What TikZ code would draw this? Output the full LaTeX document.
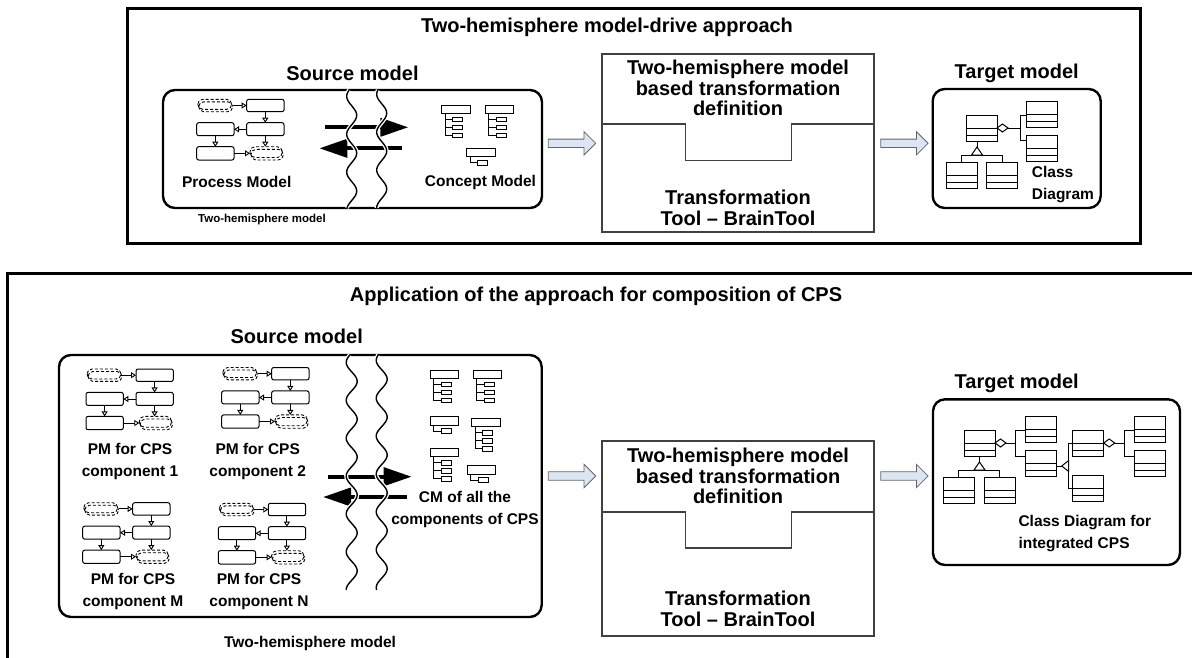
\documentclass[tikz,border=0pt]{standalone}
\usepackage{fontspec}
\setmainfont{Liberation Sans}
\usetikzlibrary{arrows.meta,calc}
\definecolor{barfill}{HTML}{DCE6F2}
\tikzset{
  hdr/.style={font=\fontsize{20}{22}\selectfont\bfseries, inner sep=0pt},
  lbl/.style={font=\fontsize{15.5}{22}\selectfont\bfseries, inner sep=0pt, align=center},
  smalllbl/.style={font=\fontsize{11.5}{13}\selectfont\bfseries, inner sep=0pt},
  midtxt/.style={font=\fontsize{20}{20.6}\selectfont\bfseries, inner sep=0pt, align=center},
  outerbox/.style={draw, line width=3pt},
  roundbox/.style={draw, line width=2.4pt, rounded corners=12pt},
  midbox/.style={draw=black!75, line width=1.1pt},
  pmbox/.style={draw, line width=1pt, rounded corners=2pt},
  pmdash/.style={draw, line width=0.9pt, dash pattern=on 3pt off 2pt, rounded corners=5pt},
  pmarr/.style={line width=0.9pt, -{Triangle[open, length=5pt, width=6pt]}},
  thickarr/.style={line width=4pt, -{Triangle[length=28pt, width=18pt]}},
  blockarr/.style={draw=black!60, fill=barfill, line width=0.8pt},
  cls/.style={draw, line width=1pt},
  halo/.style={draw=white, line width=4pt},
  wave/.style={draw=black, line width=1.4pt},
  pmicon/.pic={
    \draw[pmdash] (1,0) rectangle (35,10);
    \draw[pmdash] (2,2.5) rectangle (36,12.4);
    \draw[pmbox] (50,0) rectangle (87.3,12.4);
    \draw[pmbox] (50,23.4) rectangle (87.3,36.4);
    \draw[pmbox] (0,23.4) rectangle (37.3,36.4);
    \draw[pmbox] (0,47.4) rectangle (37.3,60.7);
    \draw[pmdash] (53.3,47.4) rectangle (85.6,58.2);
    \draw[pmdash] (54.3,50) rectangle (86.6,60.7);
    \draw[pmarr] (36,6.2) -- (50,6.2);
    \draw[pmarr] (68.6,12.4) -- (68.6,23.4);
    \draw[pmarr] (50,30) -- (37.3,30);
    \draw[pmarr] (18.6,36.4) -- (18.6,47.4);
    \draw[pmarr] (37.3,54) -- (53.3,54);
    \draw[pmarr] (68.6,36.4) -- (68.6,47.4);
  },
  cmthree/.pic={
    \draw[line width=0.9pt] (0,0) rectangle (28.3,8.3);
    \draw[line width=0.9pt] (3.3,8.3) -- (3.3,30.5);
    \foreach \yy in {14.5,22.5,30.5}{
      \draw[line width=0.9pt] (3.3,\yy) -- (11,\yy);
      \draw[line width=0.9pt] (11,\yy-2.3) rectangle (21,\yy+2.3);
    }
  },
  cmone/.pic={
    \draw[line width=0.9pt] (0,0) rectangle (28.3,8.3);
    \draw[line width=0.9pt] (3.3,8.3) -- (3.3,14.5) -- (11,14.5);
    \draw[line width=0.9pt] (11,12) rectangle (21,17);
  },
  clsbox/.pic={
    \draw[cls] (0,0) rectangle (31,26);
    \draw[cls] (0,13) -- (31,13);
    \draw[cls] (0,20) -- (31,20);
  },
}
\newcommand{\diam}[2]{\draw[cls, fill=white] (#1,#2) -- (#1+5.5,#2-4) -- (#1+11,#2) -- (#1+5.5,#2+4) -- cycle;}
\newcommand{\triup}[2]{\draw[cls, fill=white] (#1,#2) -- (#1-5.5,#2+8) -- (#1+5.5,#2+8) -- cycle;}
\newcommand{\trileft}[2]{\draw[cls, fill=white] (#1,#2) -- (#1+7,#2-5.5) -- (#1+7,#2+5.5) -- cycle;}
\newcommand{\blockarrow}[2]{\draw[blockarr] (#1,#2-4.2) -- (#1+35.7,#2-4.2) -- (#1+35.7,#2-11.7) -- (#1+47.4,#2) -- (#1+35.7,#2+11.7) -- (#1+35.7,#2+4.2) -- (#1,#2+4.2) -- cycle;}
\begin{document}
\begin{tikzpicture}[x=1pt,y=-1pt]
\useasboundingbox (0,0) rectangle (1192,657);
\fill[white] (0,0) rectangle (1192,657);

% ================= TOP PANEL =================
\draw[outerbox] (127,8) rectangle (1140,243);
\node[hdr] (t1) at (607,27) {Two-hemisphere model-drive approach};

% source
\node[hdr] (sm1) at (352.5,73) {Source model};
\draw[roundbox] (163,90) rectangle (542,208);
\pic at (196.7,99.3) {pmicon};
\node[lbl] (pml) at (236.7,182) {Process Model};
\pic at (441.7,105) {cmthree};
\pic at (485,105) {cmthree};
\pic at (466.7,148.3) {cmone};
\node[lbl] (cml) at (480.5,182) {Concept Model};
\node[smalllbl] (thm1) at (262,220) {Two-hemisphere model};

\coordinate (ra1) at (325,127.3);
\coordinate (ra2) at (408.3,127.3);
\coordinate (la1) at (401.7,148.3);
\coordinate (la2) at (319.3,148.3);
\draw[thickarr] (ra1) -- (ra2);
\draw[thickarr] (la1) -- (la2);
\foreach \cx/\ph in {351.7/210, 381.7/230}{
  \draw[halo] plot[smooth, domain=0:118, samples=70] ({\cx+5*sin(\x*9.5+\ph)}, {90+\x});
  \draw[wave] plot[smooth, domain=0:118, samples=70] ({\cx+5*sin(\x*9.5+\ph)}, {90+\x});
}

% block arrows
\blockarrow{548.3}{143.3}
\blockarrow{880.7}{143.3}

% middle box
\draw[midbox] (602,54) rectangle (874,232);
\draw[midbox] (602,124) -- (685.7,124) -- (685.7,160.7) -- (791.7,160.7) -- (791.7,124) -- (874,124);
\node[midtxt] (md1a) at (738,88) {Two-hemisphere model\\based transformation\\definition};
\node[midtxt] (md1b) at (738,208) {Transformation\\Tool – BrainTool};

% target
\node[hdr] (tm1) at (1016.7,73) {Target model};
\draw[roundbox] (932.7,89) rectangle (1100.7,208);
\pic at (966,115) {clsbox};
\pic at (1026.7,101.7) {clsbox};
\pic at (1026.7,135) {clsbox};
\pic at (946,162.7) {clsbox};
\pic at (986.7,162.7) {clsbox};
\draw[cls] (1008,128) -- (1020,128);
\draw[cls] (1026.7,115.7) -- (1020,115.7) -- (1020,140) -- (1026.7,140);
\diam{997}{128}
\draw[cls] (977,141) -- (977,147);
\draw[cls] (961.5,162.7) -- (961.5,155) -- (1002.2,155) -- (1002.2,162.7);
\triup{977}{147}
\node[lbl, align=left, anchor=west] (cd1) at (1031.7,185) {Class\\Diagram};

% ================= BOTTOM PANEL =================
\draw[outerbox] (7,273) rectangle (1200,670);
\node[hdr] (t2) at (596,296) {Application of the approach for composition of CPS};

\node[hdr] (sm2) at (296.7,336.7) {Source model};
\draw[roundbox] (59,355) rectangle (541.7,617);
\pic at (86,369) {pmicon};
\pic at (221.7,367.5) {pmicon};
\pic at (82.7,502.7) {pmicon};
\pic at (218.3,503.3) {pmicon};
\node[lbl] (pm1) at (130,461.7) {PM for CPS\\component 1};
\node[lbl] (pm2) at (257.7,461.7) {PM for CPS\\component 2};
\node[lbl] (pmm) at (133,591.7) {PM for CPS\\component M};
\node[lbl] (pmn) at (259,591.7) {PM for CPS\\component N};
\node[lbl] (thm2) at (310,643) {Two-hemisphere model};

\pic at (430,370) {cmthree};
\pic at (473,370) {cmthree};
\pic at (430,416.7) {cmone};
\pic at (471.7,418.3) {cmthree};
\pic at (430,448.3) {cmthree};
\pic at (467.3,465.7) {cmone};

\coordinate (rb1) at (328,476.7);
\coordinate (rb2) at (411.7,476.7);
\coordinate (lb1) at (407,497);
\coordinate (lb2) at (323,497);
\draw[thickarr] (rb1) -- (rb2);
\draw[thickarr] (lb1) -- (lb2);
\foreach \cx/\ph in {351.7/200, 381.7/220}{
  \draw[halo] plot[smooth, domain=0:235, samples=120] ({\cx+5.5*sin(\x*9.5+\ph)}, {355+\x});
  \draw[wave] plot[smooth, domain=0:235, samples=120] ({\cx+5.5*sin(\x*9.5+\ph)}, {355+\x});
}
\node[lbl] (cmt) at (465,509) {CM of all the\\components of CPS};

\blockarrow{548.3}{476}
\blockarrow{880.7}{476}

\draw[midbox] (602,441) rectangle (874,636);
\draw[midbox] (602,512) -- (685.7,512) -- (685.7,548) -- (791.7,548) -- (791.7,512) -- (874,512);
\node[midtxt] (md2a) at (738,476) {Two-hemisphere model\\based transformation\\definition};
\node[midtxt] (md2b) at (738,609) {Transformation\\Tool – BrainTool};

\node[hdr] (tm2) at (1016.7,383.3) {Target model};
\draw[roundbox] (933,399.3) rectangle (1180,565);
\pic at (964,430) {clsbox};
\pic at (1025,416.7) {clsbox};
\pic at (1025,450.7) {clsbox};
\pic at (1072.7,430) {clsbox};
\pic at (1072.7,475.7) {clsbox};
\pic at (1134.3,416.7) {clsbox};
\pic at (1134.3,450.7) {clsbox};
\pic at (943.3,477.3) {clsbox};
\pic at (984.3,477.3) {clsbox};
\draw[cls] (1006,443) -- (1015,443);
\draw[cls] (1025,430) -- (1015,430) -- (1015,456.7) -- (1025,456.7);
\diam{995}{443}
\draw[cls] (979.5,456) -- (979.5,462);
\draw[cls] (958.8,477.3) -- (958.8,470) -- (999.8,470) -- (999.8,477.3);
\triup{979.5}{462}
\draw[cls] (1056,466) -- (1061.7,466);
\draw[cls] (1072.7,443) -- (1068.7,443) -- (1068.7,488.7) -- (1072.7,488.7);
\trileft{1061.7}{466}
\draw[cls] (1114.7,443) -- (1124,443);
\draw[cls] (1134.3,430) -- (1124,430) -- (1124,456.7) -- (1134.3,456.7);
\diam{1103.7}{443}
\node[lbl, align=left, anchor=west] (cd2) at (1018.3,534) {Class Diagram for\\integrated CPS};
\end{tikzpicture}
\end{document}
